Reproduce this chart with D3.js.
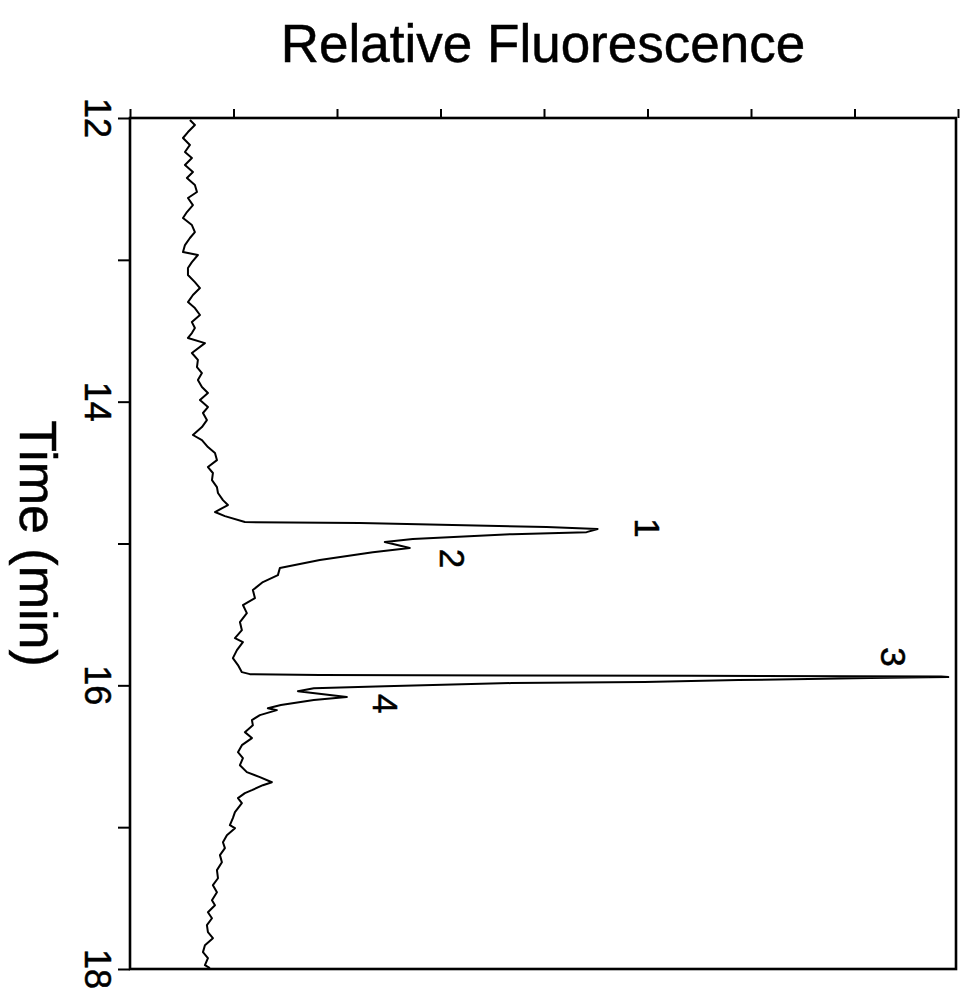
<!DOCTYPE html>
<html>
<head>
<meta charset="utf-8">
<script src="https://cdn.jsdelivr.net/npm/d3@7"></script>
<style>
  html, body { margin: 0; padding: 0; background: #fff; }
  svg { display: block; }
  text { font-family: "Liberation Sans", Arial, Helvetica, sans-serif; fill: #000; stroke: #000; stroke-width: 0.5px; }
</style>
</head>
<body>
<svg id="chart" width="963" height="998"></svg>
<script>
// ---- data (time in min, relative fluorescence in arbitrary tick units) ----
const time = [
  12.014,12.049,12.099,12.141,12.190,12.240,12.282,12.331,12.381,12.423,
  12.472,12.522,12.564,12.614,12.663,12.705,12.755,12.804,12.846,12.896,
  12.945,12.966,13.016,13.058,13.107,13.157,13.199,13.248,13.298,13.340,
  13.389,13.439,13.481,13.516,13.551,13.587,13.657,13.706,13.756,13.798,
  13.848,13.897,13.939,13.989,14.038,14.080,14.130,14.179,14.235,14.271,
  14.320,14.362,14.412,14.461,14.503,14.553,14.602,14.644,14.694,14.729,
  14.778,14.807,14.849,14.856,14.863,14.884,14.898,14.920,14.934,14.969,
  14.990,15.032,15.061,15.117,15.173,15.223,15.272,15.328,15.385,15.434,
  15.491,15.554,15.611,15.667,15.695,15.752,15.808,15.857,15.907,15.921,
  15.928,15.930,15.932,15.937,15.942,15.949,15.963,15.977,15.984,16.006,
  16.020,16.041,16.083,16.104,16.139,16.161,16.175,16.210,16.245,16.281,
  16.330,16.372,16.422,16.471,16.513,16.563,16.612,16.647,16.683,16.704,
  16.739,16.760,16.795,16.830,16.894,16.936,16.986,17.007,17.057,17.106,
  17.148,17.197,17.247,17.303,17.360,17.409,17.459,17.515,17.550,17.600,
  17.642,17.691,17.740,17.783,17.832,17.881,17.924,17.973,17.994
];
const fluorescence = [
  0.579,0.627,0.560,0.512,0.579,0.531,0.598,0.531,0.608,0.550,
  0.627,0.647,0.560,0.608,0.550,0.512,0.598,0.627,0.579,0.531,
  0.512,0.656,0.598,0.560,0.560,0.627,0.676,0.608,0.560,0.627,
  0.676,0.598,0.627,0.598,0.560,0.724,0.598,0.656,0.647,0.695,
  0.656,0.695,0.753,0.676,0.753,0.705,0.743,0.695,0.608,0.695,
  0.753,0.821,0.840,0.753,0.801,0.792,0.840,0.850,0.898,0.946,
  0.821,0.917,1.110,2.220,2.674,4.025,4.518,4.411,3.697,2.732,
  2.462,2.703,2.346,1.834,1.448,1.429,1.284,1.187,1.207,1.091,
  1.129,1.062,1.081,1.014,1.091,1.033,0.994,1.043,1.081,1.158,
  1.834,3.688,5.425,7.838,7.906,7.153,5.878,4.971,3.687,2.462,
  1.776,1.622,2.095,1.776,1.458,1.332,1.419,1.255,1.178,1.187,
  1.110,1.178,1.081,1.043,1.091,1.062,1.129,1.255,1.371,1.284,
  1.178,1.110,1.043,1.081,1.014,0.994,0.965,1.014,0.936,0.898,
  0.917,0.869,0.888,0.840,0.850,0.801,0.840,0.792,0.821,0.753,
  0.792,0.743,0.753,0.801,0.724,0.705,0.753,0.724,0.772
];
const timeTicks = [12, 13, 14, 15, 16, 17, 18];
const timeLabels = ["12", "14", "16", "18"];
const fluorTicks = [0, 1, 2, 3, 4, 5, 6, 7, 8];
const peakNames = ["1", "2", "3", "4"];
const peakTime = [14.891, 15.105, 15.80, 16.13];
const peakFluor = [5.0, 3.12, 7.38, 2.47];
const titleText = "Relative Fluorescence";
const axisTitle = "Time (min)";

// ---- layout ----
const svg = d3.select("#chart");
const mLeft = 130, mRight = 958, mTop = 118, mBottom = 969;

const x = d3.scaleLinear().domain([0, 8]).range([mLeft, mRight]);
const y = d3.scaleLinear().domain([12, 18]).range([mTop, mBottom]);

// title
svg.append("text")
  .attr("x", (mLeft + mRight) / 2 - 1)
  .attr("y", 62)
  .attr("text-anchor", "middle")
  .style("font-size", "53px")
  .text(titleText);

// axis title (rotated)
svg.append("text")
  .attr("transform", `translate(20, ${(mTop + mBottom) / 2}) rotate(90)`)
  .attr("text-anchor", "middle")
  .style("font-size", "52px")
  .text(axisTitle);

// top ticks
const topAxis = d3.axisTop(x).tickValues(fluorTicks).tickSize(9).tickFormat("");
const gTop = svg.append("g").attr("transform", `translate(0, ${mTop})`).call(topAxis);
gTop.select(".domain").remove();
gTop.selectAll("line").attr("stroke", "#000").attr("stroke-width", 2);

// left ticks
const leftAxis = d3.axisLeft(y).tickValues(timeTicks).tickSize(12).tickFormat("");
const gLeft = svg.append("g").attr("transform", `translate(${mLeft}, 0)`).call(leftAxis);
gLeft.select(".domain").remove();
gLeft.selectAll("line").attr("stroke", "#000").attr("stroke-width", 2);

// tick labels (rotated)
svg.selectAll(".tl").data(timeLabels).enter().append("text")
  .attr("class", "tl")
  .attr("transform", d => `translate(85, ${y(+d)}) rotate(90)`)
  .attr("text-anchor", "middle")
  .style("font-size", "36px")
  .text(d => d);

// frame
svg.append("rect")
  .attr("x", mLeft).attr("y", mTop)
  .attr("width", mRight - 2 - mLeft).attr("height", mBottom - mTop)
  .attr("fill", "none").attr("stroke", "#000").attr("stroke-width", 2.6);

// trace
const pts = time.map((t, i) => [t, fluorescence[i]]);
const line = d3.line().x(d => x(d[1])).y(d => y(d[0]));
svg.append("path")
  .datum(pts)
  .attr("d", line)
  .attr("fill", "none")
  .attr("stroke", "#000")
  .attr("stroke-width", 2)
  .attr("stroke-linejoin", "round");

// peak labels (rotated)
svg.selectAll(".pk").data(peakNames).enter().append("text")
  .attr("class", "pk")
  .attr("transform", (d, i) => `translate(${x(peakFluor[i])}, ${y(peakTime[i])}) rotate(90)`)
  .attr("text-anchor", "middle")
  .attr("dominant-baseline", "central")
  .style("font-size", "35px")
  .text(d => d);
</script>
</body>
</html>
